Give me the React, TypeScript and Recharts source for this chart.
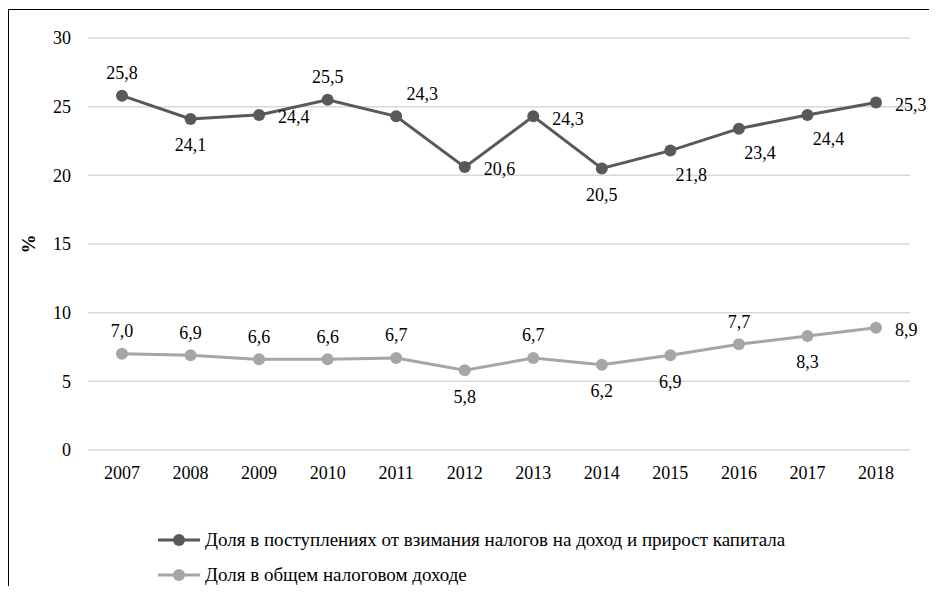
import React from 'react';
import { LineChart, Line, XAxis, YAxis, CartesianGrid, Legend, LabelList } from 'recharts';

const years = ['2007', '2008', '2009', '2010', '2011', '2012', '2013', '2014', '2015', '2016', '2017', '2018'];
const shareIncomeCapital = [25.8, 24.1, 24.4, 25.5, 24.3, 20.6, 24.3, 20.5, 21.8, 23.4, 24.4, 25.3];
const shareTotalTax = [7.0, 6.9, 6.6, 6.6, 6.7, 5.8, 6.7, 6.2, 6.9, 7.7, 8.3, 8.9];
const yTicks = [0, 5, 10, 15, 20, 25, 30];
const seriesNames = [
  'Доля в поступлениях от взимания налогов на доход и прирост капитала',
  'Доля в общем налоговом доходе',
];
const placementIncome = ['top', 'bottom', 'right', 'top', 'topRight', 'right', 'right', 'bottom', 'bottomRight', 'bottomRight', 'bottomRight', 'right'];
const placementTotal = ['top', 'top', 'top', 'top', 'top', 'bottom', 'top', 'bottom', 'bottom', 'top', 'bottom', 'right'];

const data = years.map((year, i) => ({
  year,
  income: shareIncomeCapital[i],
  total: shareTotalTax[i],
}));

const DARK = '#595959';
const LIGHT = '#a6a6a6';
const FONT = "'Liberation Serif', 'DejaVu Serif', 'Times New Roman', serif";

const offsets: Record<string, { dx: number; dy: number; anchor: 'start' | 'middle' }> = {
  top: { dx: 0, dy: -23, anchor: 'middle' },
  bottom: { dx: 0, dy: 26, anchor: 'middle' },
  right: { dx: 19, dy: 2, anchor: 'start' },
  topRight: { dx: 26, dy: -23, anchor: 'middle' },
  bottomRight: { dx: 21, dy: 24, anchor: 'middle' },
};

const fmt = (v: number) => v.toFixed(1).replace('.', ',');

const makeLabel = (placements: string[]) => (props: any) => {
  const { x, y, value, index } = props;
  const o = offsets[placements[index]] || offsets.top;
  return (
    <text
      x={Number(x) + o.dx}
      y={Number(y) + o.dy}
      dy="0.35em"
      textAnchor={o.anchor}
      style={{ fontFamily: FONT }}
      fontSize={18}
      fill="#000"
    >
      {fmt(Number(value))}
    </text>
  );
};

const renderLegend = () => (
  <div style={{ fontFamily: FONT, fontSize: 19, color: '#000' }}>
    {seriesNames.map((name, i) => {
      const color = i === 0 ? DARK : LIGHT;
      return (
        <div key={name} style={{ display: 'flex', alignItems: 'center', height: 35, whiteSpace: 'nowrap' }}>
          <svg width={47} height={14} style={{ flex: 'none' }}>
            <line x1={0} y1={7} x2={42} y2={7} stroke={color} strokeWidth={3} />
            <circle cx={21} cy={7} r={6} fill={color} />
          </svg>
          <span>{name}</span>
        </div>
      );
    })}
  </div>
);

export default function App() {
  return (
    <div
      style={{
        marginTop: 1,
        borderTop: '1px solid #000',
        borderLeft: '1px solid #000',
        width: 928,
        height: 576,
        background: '#fff',
        fontFamily: FONT,
      }}
    >
      <LineChart
        width={928}
        height={576}
        data={data}
        margin={{ top: 28, right: 27, left: 0, bottom: 106 }}
        style={{ fontFamily: FONT }}
      >
        <CartesianGrid vertical={false} stroke="#d9d9d9" strokeWidth={1.5} />
        <XAxis
          dataKey="year"
          height={30}
          axisLine={false}
          tickLine={false}
          tickSize={0}
          tickMargin={16}
          padding={{ left: 34, right: 34 }}
          tick={{ fontSize: 18, fill: '#000', style: { fontFamily: FONT } }}
          interval={0}
        />
        <YAxis
          width={79}
          domain={[0, 30]}
          ticks={yTicks}
          axisLine={false}
          tickLine={false}
          tickSize={0}
          tickMargin={17}
          tick={{ fontSize: 18, fill: '#000', style: { fontFamily: FONT } }}
          label={(props: any) => {
            const vb = props.viewBox || {};
            const cx = (vb.x || 0) + 19;
            const cy = (vb.y || 0) + (vb.height || 0) / 2;
            return (
              <text
                x={cx}
                y={cy}
                transform={`rotate(-90 ${cx} ${cy})`}
                textAnchor="middle"
                dy="0.35em"
                style={{ fontFamily: FONT }}
                fontSize={19}
                fontWeight="bold"
                fill="#000"
              >
                %
              </text>
            );
          }}
        />
        <Legend
          layout="vertical"
          align="center"
          verticalAlign="middle"
          content={renderLegend}
          wrapperStyle={{ left: 149, top: 512, width: 760, height: 70 }}
        />
        <Line
          dataKey="income"
          name={seriesNames[0]}
          stroke={DARK}
          strokeWidth={3}
          dot={{ r: 6, fill: DARK, stroke: DARK, strokeWidth: 0 }}
          activeDot={false}
          isAnimationActive={false}
        >
          <LabelList dataKey="income" content={makeLabel(placementIncome)} />
        </Line>
        <Line
          dataKey="total"
          name={seriesNames[1]}
          stroke={LIGHT}
          strokeWidth={3}
          dot={{ r: 6, fill: LIGHT, stroke: LIGHT, strokeWidth: 0 }}
          activeDot={false}
          isAnimationActive={false}
        >
          <LabelList dataKey="total" content={makeLabel(placementTotal)} />
        </Line>
      </LineChart>
    </div>
  );
}
